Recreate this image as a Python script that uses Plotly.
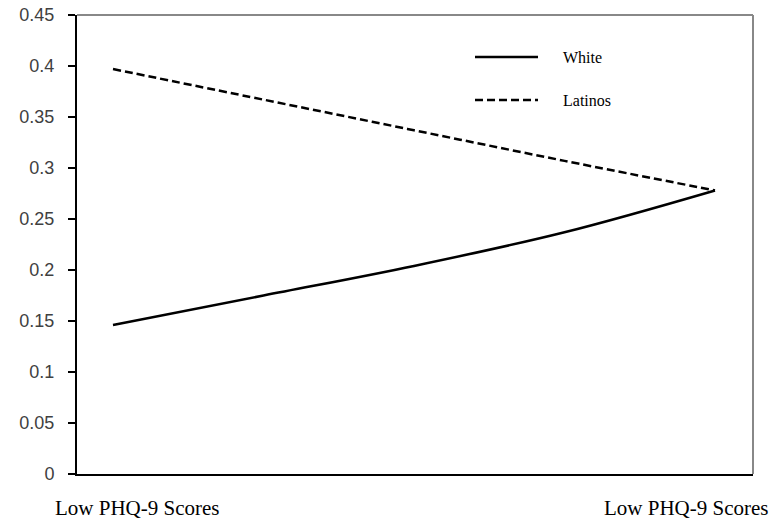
import plotly.graph_objects as go

# Data
x_pos = [0, 0.25, 0.5, 0.75, 1.0]
white = [0.146, 0.175, 0.204, 0.237, 0.278]
latinos = [0.397, 0.367, 0.337, 0.307, 0.278]
series_names = ["White", "Latinos"]
x_tick_labels = ["Low PHQ-9 Scores", "Low PHQ-9 Scores"]
y_tick_vals = [0, 0.05, 0.1, 0.15, 0.2, 0.25, 0.3, 0.35, 0.4, 0.45]
y_tick_text = ["0", "0.05", "0.1", "0.15", "0.2", "0.25", "0.3", "0.35", "0.4", "0.45"]

dashes = ["solid", "8px,4px"]
fig = go.Figure()
for name, vals, dash in zip(series_names, [white, latinos], dashes):
    fig.add_trace(go.Scatter(x=x_pos, y=vals, mode="lines", name=name,
                             line=dict(color="black", width=2.5, dash=dash, shape="spline"),
                             showlegend=False))

L, R, T, B = 77, 22, 15, 47
W, H = 775, 521
pw, ph = W - L - R, H - T - B

def px(xp):
    return (xp - L) / pw

def py(yp):
    return (H - B - yp) / ph

shapes = []
annotations = []
# top and right gray frame
shapes.append(dict(type="line", xref="paper", yref="paper", x0=0, x1=1, y0=1, y1=1,
                   line=dict(color="#888888", width=2)))
shapes.append(dict(type="line", xref="paper", yref="paper", x0=1, x1=1, y0=0, y1=1,
                   line=dict(color="#888888", width=2)))
# manual legend
leg_y = [57, 100]
for name, dash, yy in zip(series_names, dashes, leg_y):
    shapes.append(dict(type="line", xref="paper", yref="paper", x0=px(475), x1=px(538),
                       y0=py(yy), y1=py(yy), line=dict(color="black", width=2.5, dash=dash)))
    annotations.append(dict(text=name, xref="paper", yref="paper", x=px(561), y=py(yy),
                            xanchor="left", yanchor="middle", showarrow=False,
                            font=dict(family="Liberation Serif", size=16, color="black")))
# x category labels
for lab, xc in zip(x_tick_labels, [px(137), px(686)]):
    annotations.append(dict(text=lab, xref="paper", yref="paper", x=xc, y=py(508),
                            xanchor="center", yanchor="middle", showarrow=False,
                            font=dict(family="Liberation Serif", size=21, color="black")))

fig.update_layout(
    width=W, height=H,
    margin=dict(l=L, r=R, t=T, b=B, autoexpand=False),
    paper_bgcolor="white", plot_bgcolor="white",
    shapes=shapes, annotations=annotations,
    xaxis=dict(range=[-(113 - 77) / 602, (753 - 113) / 602], showgrid=False, zeroline=False,
               showticklabels=False, ticks="", showline=True, linecolor="black", linewidth=2,
               automargin=False),
    yaxis=dict(range=[0, 0.45], tickvals=y_tick_vals, ticktext=y_tick_text,
               showgrid=False, zeroline=False, showline=True, linecolor="black", linewidth=2,
               ticks="outside", ticklen=7, tickcolor="black", tickwidth=1.5,
               ticklabelstandoff=10, automargin=False,
               tickfont=dict(family="Liberation Sans", size=18, color="#404040")),
)

fig.write_html("out.html", config={"displayModeBar": False},
               post_script="document.body.style.margin='0';document.body.style.overflow='hidden';")
